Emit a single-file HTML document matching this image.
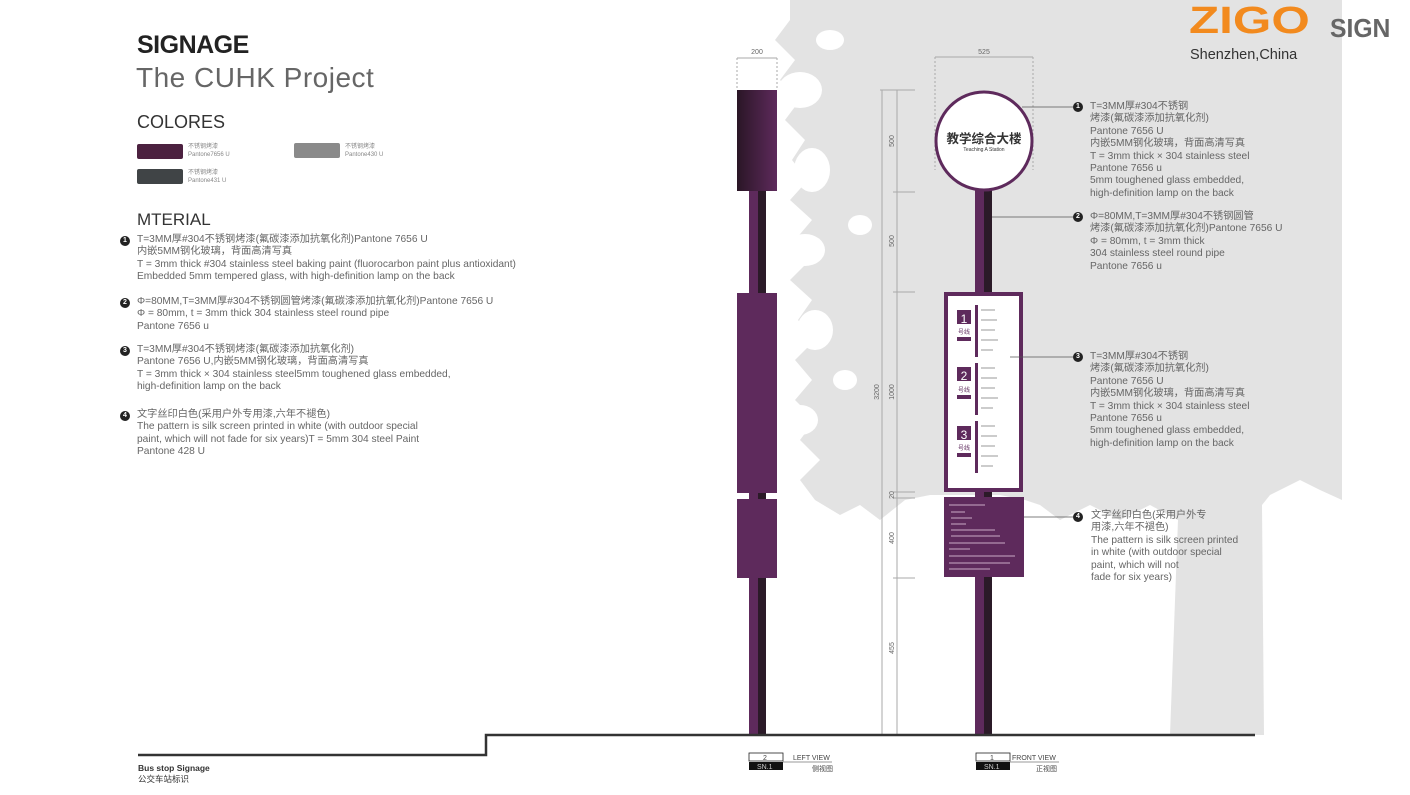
<!DOCTYPE html>
<html><head><meta charset="utf-8">
<style>
html,body{margin:0;padding:0}
body{width:1410px;height:795px;position:relative;overflow:hidden;background:#fff;font-family:"Liberation Sans","Noto Sans CJK SC",sans-serif;color:#555}
.a{position:absolute;white-space:nowrap}
.t{font-size:10.2px;line-height:12.4px;color:#666}
.b{position:absolute;width:10px;height:10px;border-radius:50%;background:#222;color:#fff;font-size:7px;line-height:10px;text-align:center;font-weight:bold}
.sw{position:absolute;width:46px;height:15px;border-radius:2px}
.sl{position:absolute;font-size:6px;line-height:8px;color:#888}
</style></head><body>
<svg class="a" style="left:0;top:0" width="1410" height="795">
<g fill="#e3e3e3">
<path d="M790 0 H1342 V500 L1320 490 L1300 480 L1270 495 L1262 505 L1264 735 H1170 L1178 520 L1150 505 L1120 520 L1090 505 L1060 520 L1040 505 L1025 500 L1000 495 H930 L905 500 L880 520 L860 505 L840 515 L815 500 L800 480 L820 460 L800 440 L815 420 L795 400 L812 380 L795 360 L815 340 L798 320 L812 300 L790 280 L810 260 L795 240 L812 220 L790 200 L808 180 L792 160 L805 140 L785 120 L800 100 L780 80 L795 60 L775 40 L790 20 Z"/>
</g>
<g fill="#fff">
<ellipse cx="800" cy="90" rx="22" ry="18"/><ellipse cx="812" cy="170" rx="18" ry="22"/><ellipse cx="805" cy="250" rx="20" ry="16"/>
<ellipse cx="815" cy="330" rx="18" ry="20"/><ellipse cx="800" cy="420" rx="18" ry="15"/><ellipse cx="830" cy="40" rx="14" ry="10"/>
<ellipse cx="860" cy="225" rx="12" ry="10"/><ellipse cx="845" cy="380" rx="12" ry="10"/>
</g>
<g stroke="#aaa" stroke-width="1" fill="none">
<line x1="882" y1="90" x2="882" y2="735"/><line x1="897" y1="90" x2="897" y2="735"/>
<line x1="880" y1="90" x2="915" y2="90"/><line x1="893" y1="192" x2="915" y2="192"/><line x1="893" y1="292" x2="915" y2="292"/>
<line x1="893" y1="492" x2="915" y2="492"/><line x1="893" y1="498" x2="915" y2="498"/><line x1="893" y1="578" x2="915" y2="578"/>
<line x1="737" y1="58" x2="777" y2="58"/><line x1="935" y1="57" x2="1033" y2="57"/>
</g>
<g stroke="#aaa" stroke-width="1" stroke-dasharray="2,2">
<line x1="737" y1="58" x2="737" y2="90"/><line x1="777" y1="58" x2="777" y2="90"/>
<line x1="935" y1="57" x2="935" y2="170"/><line x1="1033" y1="57" x2="1033" y2="170"/>
</g>
<g font-size="7" fill="#666" text-anchor="middle">
<text x="757" y="54">200</text><text x="984" y="54">525</text>
<text transform="translate(894,141) rotate(-90)">500</text>
<text transform="translate(894,241) rotate(-90)">500</text>
<text transform="translate(894,392) rotate(-90)">1000</text>
<text transform="translate(879,392) rotate(-90)">3200</text>
<text transform="translate(894,495) rotate(-90)">20</text>
<text transform="translate(894,538) rotate(-90)">400</text>
<text transform="translate(894,648) rotate(-90)">455</text>
</g>
<defs><linearGradient id="g1" x1="0" x2="1"><stop offset="0" stop-color="#2a1626"/><stop offset="1" stop-color="#5e2a5c"/></linearGradient></defs>
<rect x="749" y="190" width="9" height="546" fill="#5e2a5c"/><rect x="758" y="190" width="8" height="546" fill="#2b1a28"/>
<rect x="737" y="90" width="40" height="101" fill="url(#g1)"/>
<rect x="737" y="293" width="40" height="200" fill="#5e2a5c"/>
<rect x="737" y="499" width="40" height="79" fill="#5e2a5c"/>
<rect x="975" y="185" width="9" height="551" fill="#5e2a5c"/><rect x="984" y="185" width="8" height="551" fill="#2b1a28"/>
<ellipse cx="984" cy="141" rx="48" ry="49" fill="#fff" stroke="#5e2a5c" stroke-width="3"/>
<text x="984" y="143" font-size="12.5" text-anchor="middle" fill="#333" font-weight="bold">教学综合大楼</text>
<text x="984" y="151" font-size="5" text-anchor="middle" fill="#333">Teaching A Station</text>
<rect x="946" y="294" width="75" height="196" fill="#fff" stroke="#5e2a5c" stroke-width="4"/>
<g fill="#5e2a5c">
<rect x="957" y="310" width="14" height="14"/><rect x="957" y="367" width="14" height="14"/><rect x="957" y="426" width="14" height="14"/>
<rect x="957" y="337" width="14" height="4"/><rect x="957" y="395" width="14" height="4"/><rect x="957" y="453" width="14" height="4"/>
<rect x="975" y="305" width="3" height="52"/><rect x="975" y="363" width="3" height="52"/><rect x="975" y="421" width="3" height="52"/>
</g>
<g fill="#fff" font-size="12" text-anchor="middle"><text x="964" y="323">1</text><text x="964" y="380">2</text><text x="964" y="439">3</text></g>
<g fill="#5e2a5c" font-size="6" text-anchor="middle"><text x="964" y="334">号线</text><text x="964" y="392">号线</text><text x="964" y="450">号线</text></g>
<g stroke="#bbb" stroke-width="1.5"><line x1="981" y1="310" x2="995" y2="310"/><line x1="981" y1="320" x2="997" y2="320"/><line x1="981" y1="330" x2="995" y2="330"/><line x1="981" y1="340" x2="998" y2="340"/><line x1="981" y1="350" x2="993" y2="350"/>
<line x1="981" y1="368" x2="995" y2="368"/><line x1="981" y1="378" x2="997" y2="378"/><line x1="981" y1="388" x2="995" y2="388"/><line x1="981" y1="398" x2="998" y2="398"/><line x1="981" y1="408" x2="993" y2="408"/>
<line x1="981" y1="426" x2="995" y2="426"/><line x1="981" y1="436" x2="997" y2="436"/><line x1="981" y1="446" x2="995" y2="446"/><line x1="981" y1="456" x2="998" y2="456"/><line x1="981" y1="466" x2="993" y2="466"/></g>
<rect x="944" y="497" width="80" height="80" fill="#5e2a5c"/>
<g stroke="#c9a9c6" stroke-width="1"><line x1="949" y1="505" x2="985" y2="505"/><line x1="951" y1="512" x2="965" y2="512"/><line x1="951" y1="518" x2="972" y2="518"/><line x1="951" y1="524" x2="966" y2="524"/><line x1="951" y1="530" x2="995" y2="530"/><line x1="951" y1="536" x2="1000" y2="536"/><line x1="949" y1="543" x2="1005" y2="543"/><line x1="949" y1="549" x2="970" y2="549"/><line x1="949" y1="556" x2="1015" y2="556"/><line x1="949" y1="563" x2="1010" y2="563"/><line x1="949" y1="569" x2="990" y2="569"/></g>
<g stroke="#555" stroke-width="0.8"><line x1="1022" y1="107" x2="1077" y2="107"/><line x1="992" y1="217" x2="1077" y2="217"/><line x1="1010" y1="357" x2="1077" y2="357"/><line x1="1024" y1="517" x2="1077" y2="517"/></g>
<polyline points="138,755 486,755 486,735 1255,735" fill="none" stroke="#333" stroke-width="2.5"/>
<rect x="749" y="753" width="34" height="8" fill="#fff" stroke="#222" stroke-width="0.8"/><rect x="749" y="762" width="34" height="8" fill="#111"/>
<rect x="976" y="753" width="34" height="8" fill="#fff" stroke="#222" stroke-width="0.8"/><rect x="976" y="762" width="34" height="8" fill="#111"/>
<line x1="783" y1="762" x2="832" y2="762" stroke="#999"/><line x1="1010" y1="762" x2="1059" y2="762" stroke="#999"/>
<g font-size="7" fill="#444"><text x="763" y="760">2</text><text x="990" y="760">1</text><text x="793" y="760">LEFT VIEW</text><text x="1012" y="760">FRONT VIEW</text>
<text x="812" y="771">侧视图</text><text x="1036" y="771">正视图</text></g>
<g font-size="7" fill="#ccc"><text x="757" y="769">SN.1</text><text x="984" y="769">SN.1</text></g>
</svg>
<div class="a" style="left:1189px;top:0px;font-size:38px;font-weight:bold;color:#f28a1e;transform:scaleX(1.3);transform-origin:0 0">ZIGO</div>
<div class="a" style="left:1330px;top:13px;font-size:26px;font-weight:bold;color:#666;transform:scaleX(0.95);transform-origin:0 0">SIGN</div>
<div class="a" style="left:1190px;top:47px;font-size:14.5px;color:#333">Shenzhen,China</div>
<div class="a" style="left:137px;top:31px;font-size:25px;color:#222;font-weight:bold;letter-spacing:-0.5px">SIGNAGE</div>
<div class="a" style="left:136px;top:62px;font-size:28px;color:#666;font-weight:300;letter-spacing:0.5px">The CUHK Project</div>
<div class="a" style="left:137px;top:112px;font-size:18px;color:#333">COLORES</div>
<div class="sw" style="left:137px;top:144px;background:#4c2140"></div>
<div class="sl" style="left:188px;top:143px">不锈钢烤漆<br>Pantone7656 U</div>
<div class="sw" style="left:294px;top:143px;background:#8a8a8a"></div>
<div class="sl" style="left:345px;top:143px">不锈钢烤漆<br>Pantone430 U</div>
<div class="sw" style="left:137px;top:169px;background:#404446"></div>
<div class="sl" style="left:188px;top:169px">不锈钢烤漆<br>Pantone431 U</div>
<div class="a" style="left:137px;top:210px;font-size:17px;color:#333">MTERIAL</div>
<div class="b" style="left:120px;top:236px">1</div>
<div class="a t" style="left:137px;top:234px">T=3MM厚#304不锈钢烤漆(氟碳漆添加抗氧化剂)Pantone 7656 U<br>内嵌5MM钢化玻璃，背面高清写真<br>T = 3mm thick #304 stainless steel baking paint (fluorocarbon paint plus antioxidant)<br>Embedded 5mm tempered glass, with high-definition lamp on the back</div>
<div class="b" style="left:120px;top:298px">2</div>
<div class="a t" style="left:137px;top:296px">Φ=80MM,T=3MM厚#304不锈钢圆管烤漆(氟碳漆添加抗氧化剂)Pantone 7656 U<br>Φ = 80mm, t = 3mm thick 304 stainless steel round pipe<br>Pantone 7656 u</div>
<div class="b" style="left:120px;top:346px">3</div>
<div class="a t" style="left:137px;top:344px">T=3MM厚#304不锈钢烤漆(氟碳漆添加抗氧化剂)<br>Pantone 7656 U,内嵌5MM钢化玻璃，背面高清写真<br>T = 3mm thick × 304 stainless steel5mm toughened glass embedded,<br>high-definition lamp on the back</div>
<div class="b" style="left:120px;top:411px">4</div>
<div class="a t" style="left:137px;top:409px">文字丝印白色(采用户外专用漆,六年不褪色)<br>The pattern is silk screen printed in white (with outdoor special<br>paint, which will not fade for six years)T = 5mm 304 steel Paint<br>Pantone 428 U</div>
<div class="b" style="left:1073px;top:102px">1</div>
<div class="a t" style="left:1090px;top:101px">T=3MM厚#304不锈钢<br>烤漆(氟碳漆添加抗氧化剂)<br>Pantone 7656 U<br>内嵌5MM钢化玻璃，背面高清写真<br>T = 3mm thick × 304 stainless steel<br>Pantone 7656 u<br>5mm toughened glass embedded,<br>high-definition lamp on the back</div>
<div class="b" style="left:1073px;top:212px">2</div>
<div class="a t" style="left:1090px;top:211px">Φ=80MM,T=3MM厚#304不锈钢圆管<br>烤漆(氟碳漆添加抗氧化剂)Pantone 7656 U<br>Φ = 80mm, t = 3mm thick<br>304 stainless steel round pipe<br>Pantone 7656 u</div>
<div class="b" style="left:1073px;top:352px">3</div>
<div class="a t" style="left:1090px;top:351px">T=3MM厚#304不锈钢<br>烤漆(氟碳漆添加抗氧化剂)<br>Pantone 7656 U<br>内嵌5MM钢化玻璃，背面高清写真<br>T = 3mm thick × 304 stainless steel<br>Pantone 7656 u<br>5mm toughened glass embedded,<br>high-definition lamp on the back</div>
<div class="b" style="left:1073px;top:512px">4</div>
<div class="a t" style="left:1091px;top:510px">文字丝印白色(采用户外专<br>用漆,六年不褪色)<br>The pattern is silk screen printed<br>in white (with outdoor special<br>paint, which will not<br>fade for six years)</div>
<div class="a" style="left:138px;top:763px;font-size:8.5px;line-height:11px;color:#333;font-weight:bold">Bus stop Signage<br><span style="font-weight:normal">公交车站标识</span></div>
</body></html>
